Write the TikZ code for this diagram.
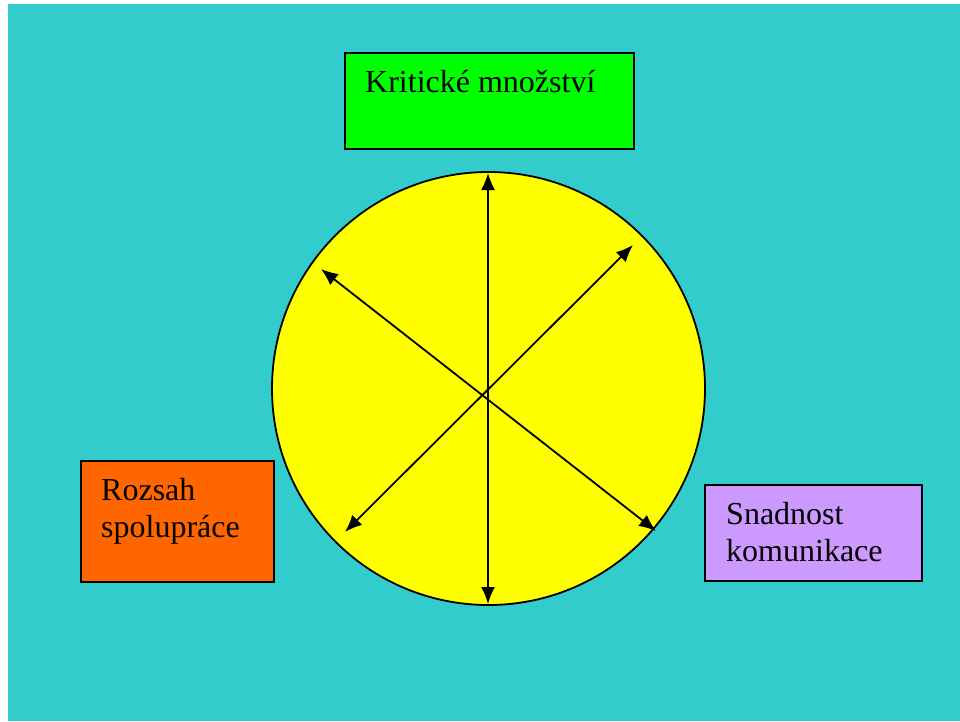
\documentclass[tikz,border=0pt]{standalone}
\usepackage{fontspec}
\setmainfont{Liberation Serif}
\usepackage{xcolor}
\usetikzlibrary{arrows.meta, positioning}

\definecolor{slideteal}{HTML}{33CCCC}
\definecolor{boxgreen}{HTML}{00FF00}
\definecolor{boxorange}{HTML}{FF6600}
\definecolor{boxlilac}{HTML}{CC99FF}
\definecolor{hubyellow}{HTML}{FFFF00}

\begin{document}
\begin{tikzpicture}[
    x=1pt, y=-1pt,
    box/.style={rectangle, draw=black, line width=1.8pt, anchor=north west, inner sep=0pt},
    boxtext/.style={anchor=base west, inner sep=0pt, align=left, font=\fontsize{32}{36.5}\selectfont},
    arrow/.style={line width=1.8pt, {Latex[length=17pt, width=14pt]}-{Latex[length=17pt, width=14pt]}}
]

\useasboundingbox (0,0) rectangle (960,721);
\fill[white] (0,0) rectangle (960,721);
\fill[slideteal] (8,4) rectangle (960,721);

\node[circle, draw=black, line width=1.8pt, fill=hubyellow, minimum size=433pt, inner sep=0pt] (hub) at (488.5,388.5) {};

\node[box, fill=boxgreen, minimum width=289pt, minimum height=96pt] (crit) at (344,52) {};
\node[box, fill=boxorange, minimum width=193pt, minimum height=121pt] (scope) at (80,460) {};
\node[box, fill=boxlilac, minimum width=217pt, minimum height=96pt] (comm) at (704,484) {};

% base of a two-line label is its last line
\node[boxtext] (critlabel) at (365,92) {Kritické množství};
\node[boxtext] (scopelabel) at (101,537) {Rozsah\\spolupráce};
\node[boxtext] (commlabel) at (726,561) {Snadnost\\komunikace};

% arrows inside the circle
\coordinate (top) at (488,173);
\coordinate (bottom) at (488,604);
\coordinate (ne) at (633,245);
\coordinate (sw) at (345,532);
\coordinate (nw) at (321,269);
\coordinate (se) at (656,531);

\draw[arrow] (top) -- (bottom);
\draw[arrow] (ne) -- (sw);
\draw[arrow] (nw) -- (se);

\end{tikzpicture}
\end{document}
